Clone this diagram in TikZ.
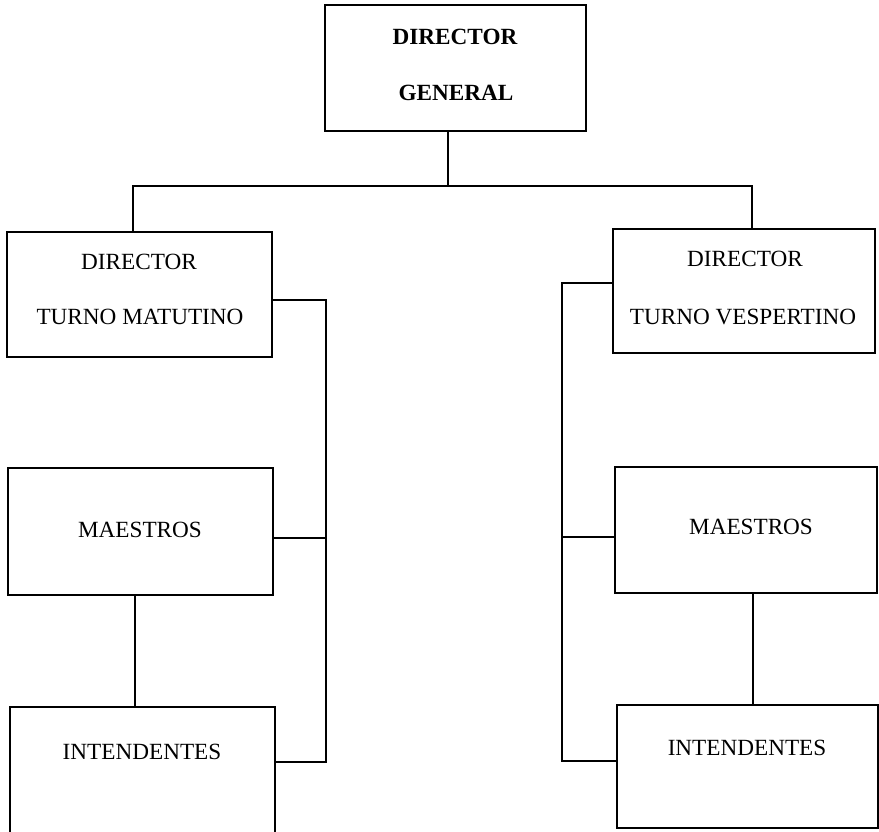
\documentclass[tikz,border=0pt]{standalone}
\usepackage{fontspec}
\setmainfont{Liberation Serif}
\usetikzlibrary{positioning}

\begin{document}
\begin{tikzpicture}
  [x=0.025cm,y=-0.025cm,line width=1.2pt,
   box/.style={draw,rectangle,inner sep=0pt},
   lbl/.style={inner sep=0pt,font=\fontsize{16.5}{19}\selectfont}]
  \useasboundingbox (0,0) rectangle (879,831);
  % boxes
  \node[box,minimum width=6.525cm,minimum height=3.15cm] (dg) at (455.5,68) {};
  \node[box,minimum width=6.625cm,minimum height=3.125cm] (dtm) at (139.5,294.5) {};
  \node[box,minimum width=6.55cm,minimum height=3.1cm] (dtv) at (744,291) {};
  \node[box,minimum width=6.625cm,minimum height=3.175cm] (mael) at (140.5,531.5) {};
  \node[box,minimum width=6.55cm,minimum height=3.15cm] (maer) at (746,530) {};
  \node[box,minimum width=6.625cm,minimum height=3.35cm] (intl) at (142.5,774) {};
  \node[box,minimum width=6.525cm,minimum height=3.075cm] (intr) at (747.5,766.5) {};
  % texts
  \node[lbl,font=\fontsize{16.5}{19}\bfseries] (dg1) at (455,37) {DIRECTOR};
  \node[lbl,font=\fontsize{16.5}{19}\bfseries] (dg2) at (456,93) {GENERAL};
  \node[lbl] (dtm1) at (139,262) {DIRECTOR};
  \node[lbl] (dtm2) at (140,317) {TURNO MATUTINO};
  \node[lbl] (dtv1) at (745,259) {DIRECTOR};
  \node[lbl] (dtv2) at (743,317) {TURNO VESPERTINO};
  \node[lbl] (mael1) at (140,530) {MAESTROS};
  \node[lbl] (maer1) at (751,527) {MAESTROS};
  \node[lbl] (intl1) at (142,752) {INTENDENTES};
  \node[lbl] (intr1) at (747,748) {INTENDENTES};
  % junctions
  \coordinate (hub) at (448,186);
  \coordinate (hl) at (133,186);
  \coordinate (hr) at (752,186);
  \coordinate (lb1) at (326,300);
  \coordinate (lb2) at (326,538);
  \coordinate (lb3) at (326,762);
  \coordinate (rb1) at (562,283);
  \coordinate (rb2) at (562,537);
  \coordinate (rb3) at (562,761);
  \coordinate (lv) at (135,600);
  \coordinate (rv) at (753,600);
  % connectors
  \draw (hub |- dg.south) -- (hub);
  \draw (hl |- dtm.north) -- (hl) -- (hr) -- (hr |- dtv.north);
  \draw (lb1 -| dtm.east) -- (lb1) -- (lb3) -- (lb3 -| intl.east);
  \draw (lb2 -| mael.east) -- (lb2);
  \draw (rb1 -| dtv.west) -- (rb1) -- (rb3) -- (rb3 -| intr.west);
  \draw (rb2 -| maer.west) -- (rb2);
  \draw (lv |- mael.south) -- (lv |- intl.north);
  \draw (rv |- maer.south) -- (rv |- intr.north);
\end{tikzpicture}
\end{document}
